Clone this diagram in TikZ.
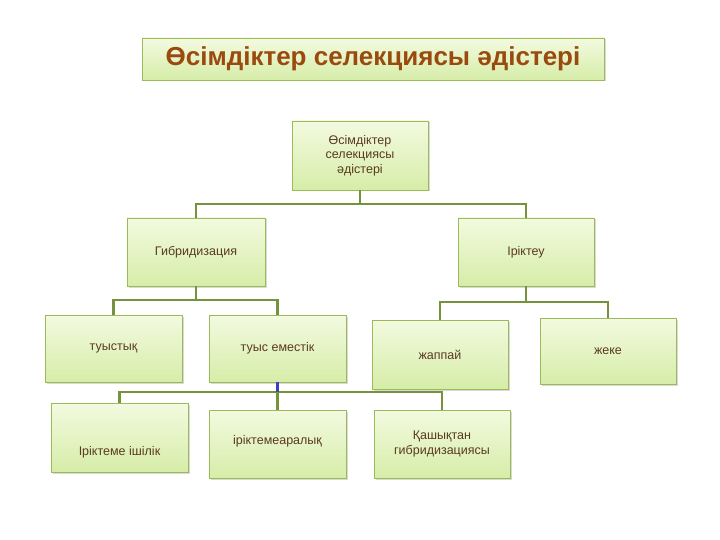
\documentclass[tikz,border=0pt]{standalone}
\usepackage{fontspec}
\setmainfont{Liberation Sans}
\usetikzlibrary{shadows}
\definecolor{bord}{HTML}{9BBB59}
\definecolor{fillA}{HTML}{F3FAE0}
\definecolor{fillB}{HTML}{D6EDA8}
\definecolor{ln}{HTML}{76923C}
\definecolor{ttl}{HTML}{9A4A0E}
\definecolor{txt}{HTML}{5A3A20}
\begin{document}
\begin{tikzpicture}[x=1pt,y=-1pt,
  bx/.style={draw=bord,line width=0.6pt,top color=fillA,bottom color=fillB,
     drop shadow={shadow xshift=1.5pt,shadow yshift=-1.5pt,opacity=0.3},
     inner sep=2pt,align=center,text=txt,font=\fontsize{12.5}{14.5}\selectfont},
  cn/.style={ln,line width=2.2pt}]
\useasboundingbox (0,0) rectangle (720,540);
\node[bx,minimum width=462,minimum height=42,font=\bfseries\fontsize{26}{30}\selectfont,text=ttl] (title) at (373,59) {Өсімдіктер селекциясы әдістері};
\node[bx,minimum width=136,minimum height=69] (root) at (360,155.5) {Өсімдіктер\\селекциясы\\әдістері};
\node[bx,minimum width=138,minimum height=68] (hyb) at (196,252) {Гибридизация};
\node[bx,minimum width=136,minimum height=68] (sel) at (526,252) {Іріктеу};
\node[bx,minimum width=137,minimum height=67] (t1) at (113.5,348.5) {туыстық};
\node[bx,minimum width=137,minimum height=67] (t2) at (277.5,348.5) {туыс еместік};
\node[bx,minimum width=136,minimum height=69] (z) at (440,354.5) {жаппай};
\node[bx,minimum width=136,minimum height=66] (k) at (608,351) {жеке};
\node[bx,minimum width=137,minimum height=69,text height=38pt] (a1) at (119.5,437.5) {Іріктеме ішілік};
\node[bx,minimum width=137,minimum height=68,text depth=8pt] (a2) at (277.5,444) {іріктемеаралық};
\node[bx,minimum width=136,minimum height=68] (a3) at (442,444) {Қашықтан\\гибридизациясы};
\draw[cn] (root.south) -- ++(0,14) -| (hyb.north);
\draw[cn] (root.south) -- ++(0,14) -| (sel.north);
\draw[cn] (hyb.south) -- ++(0,14) -| (t1.north);
\draw[cn] (hyb.south) -- ++(0,14) -| (t2.north);
\draw[cn] (sel.south) -- ++(0,16) -| (z.north);
\draw[cn] (sel.south) -- ++(0,16) -| (k.north);
\draw[cn] (t2.south) -- ++(0,10) -| (a1.north);
\draw[cn] (t2.south) -- ++(0,10) -| (a3.north);
\draw[cn] (t2.south) -- (a2.north);
\draw[line width=2.2pt,color=blue!50!gray] (t2.south) -- ++(0,10);
\end{tikzpicture}
\end{document}
